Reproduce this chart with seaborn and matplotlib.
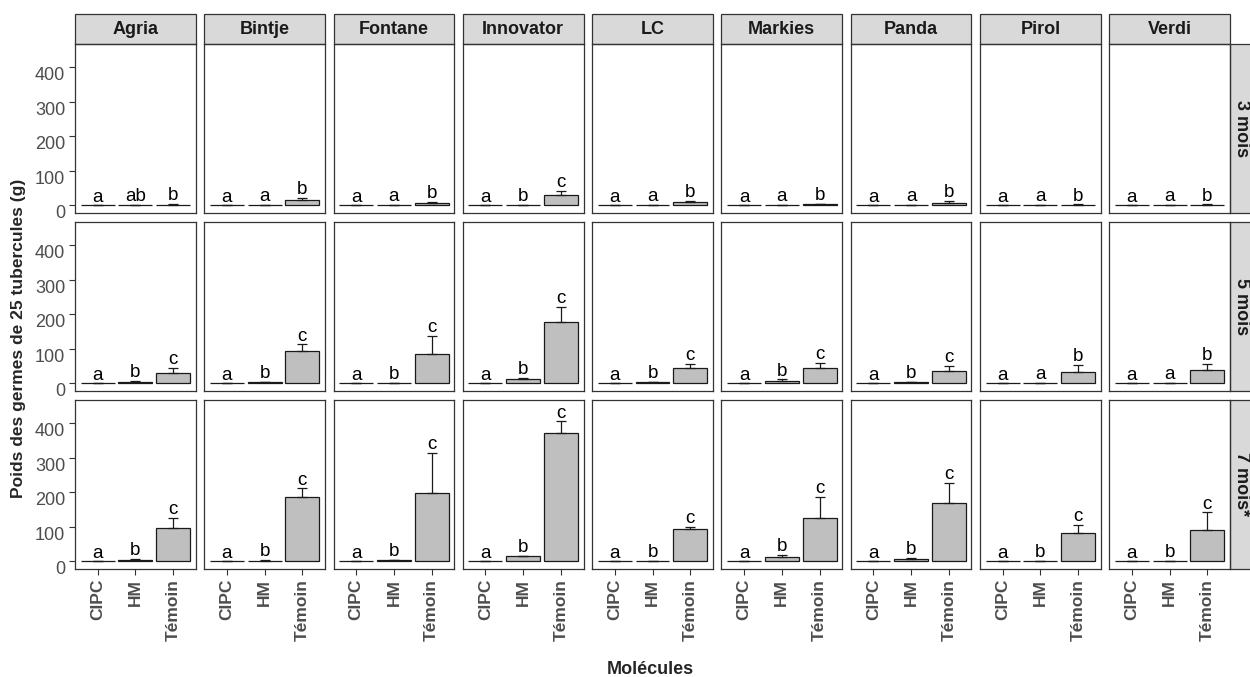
import numpy as np
import pandas as pd
import seaborn as sns
import matplotlib.pyplot as plt
from matplotlib.patches import Rectangle

sns.set_style("white")
plt.rcParams['font.family'] = ['Liberation Sans', 'DejaVu Sans']

# --- données ---
varieties = ['Agria', 'Bintje', 'Fontane', 'Innovator', 'LC', 'Markies', 'Panda', 'Pirol', 'Verdi']
molecules = ['CIPC', 'HM', 'Témoin']
periods = ['3 mois', '5 mois', '7 mois*']

# moyennes (CIPC, HM, Témoin) par variété
mean_3 = [[0, 0.5, 2], [0, 0.5, 16.5], [0, 0.5, 8], [0, 1, 30], [0, 0.5, 11],
          [0, 0.5, 3], [0, 0.5, 7], [0, 0.3, 2], [0, 0.3, 2]]
sd_3 = [[0, 0.3, 2], [0, 0.3, 6.5], [0, 0.3, 1.5], [0, 0.5, 13], [0, 0.3, 3],
        [0, 0.3, 2], [0, 0.3, 6], [0, 0.2, 1], [0, 0.2, 1]]
letters_3 = [['a', 'ab', 'b'], ['a', 'a', 'b'], ['a', 'a', 'b'], ['a', 'b', 'c'], ['a', 'a', 'b'],
             ['a', 'a', 'b'], ['a', 'a', 'b'], ['a', 'a', 'b'], ['a', 'a', 'b']]

mean_5 = [[0, 3, 30], [0, 3, 93], [0, 1, 86], [0, 13, 178], [0, 3, 46],
          [0, 8, 46], [0, 3, 37], [0, 0.3, 34], [0, 0.3, 39]]
sd_5 = [[0, 5, 16], [0, 1, 20], [0, 0.5, 52], [0, 3, 44], [0, 0.5, 11],
        [0, 4, 14], [0, 2, 13], [0, 0.2, 19], [0, 0.2, 17]]
letters_5 = [['a', 'b', 'c'], ['a', 'b', 'c'], ['a', 'b', 'c'], ['a', 'b', 'c'], ['a', 'b', 'c'],
             ['a', 'b', 'c'], ['a', 'b', 'c'], ['a', 'a', 'b'], ['a', 'a', 'b']]

mean_7 = [[0, 5, 97], [0, 2, 186], [0, 3, 198], [0, 14.5, 373], [0, 1.5, 94],
          [0, 14, 127], [0, 8, 169], [0, 2, 83], [0, 2, 90]]
sd_7 = [[0, 3, 29], [0, 2, 26], [0, 1, 116], [0, 1, 33], [0, 1, 6],
        [0, 6, 61], [0, 3, 59], [0, 0.5, 22], [0, 0.5, 52]]
letters_7 = [['a', 'b', 'c'], ['a', 'b', 'c'], ['a', 'b', 'c'], ['a', 'b', 'c'], ['a', 'b', 'c'],
             ['a', 'b', 'c'], ['a', 'b', 'c'], ['a', 'b', 'c'], ['a', 'b', 'c']]

rows = []
for p, m, s, l in zip(periods, [mean_3, mean_5, mean_7], [sd_3, sd_5, sd_7],
                      [letters_3, letters_5, letters_7]):
    for i, v in enumerate(varieties):
        for j, mol in enumerate(molecules):
            rows.append({'periode': p, 'variete': v, 'molecule': mol,
                         'moyenne': m[i][j], 'sd': s[i][j], 'lettre': l[i][j]})
df = pd.DataFrame(rows)

# --- figure ---
grey_txt = '#4D4D4D'
border = '#333333'
strip_fill = '#D9D9D9'

fig, axes = plt.subplots(3, 9, figsize=(12.5, 6.77), dpi=100, sharey=True)
fig.subplots_adjust(left=0.06, right=0.984, top=0.935, bottom=0.1595,
                    wspace=0.07, hspace=0.053)

for r, p in enumerate(periods):
    for c, v in enumerate(varieties):
        ax = axes[r, c]
        sub = df[(df['periode'] == p) & (df['variete'] == v)].set_index('molecule').loc[molecules].reset_index()
        sns.barplot(data=sub, x='molecule', y='moyenne', order=molecules, color='#BFBFBF',
                    saturation=1, edgecolor='#1a1a1a', linewidth=0.9, width=0.9,
                    errorbar=None, ax=ax)
        xs = np.arange(len(molecules))
        ax.errorbar(xs, sub['moyenne'], yerr=[np.zeros(len(xs)), sub['sd']], fmt='none',
                    ecolor='#1a1a1a', elinewidth=0.9, capsize=3.6, capthick=0.9)
        for x, (_, row) in zip(xs, sub.iterrows()):
            ax.text(x, row['moyenne'] + row['sd'] + 11, row['lettre'], ha='center',
                    va='baseline', fontsize=13.5, color='black')

        ax.set_xlim(-0.6, 2.6)
        ax.set_ylim(-22, 468)
        ax.set_yticks([0, 100, 200, 300, 400])
        ax.set_xlabel('')
        ax.set_ylabel('')
        for sp in ax.spines.values():
            sp.set_visible(True)
            sp.set_color(border)
            sp.set_linewidth(0.9)
        ax.tick_params(axis='both', length=4, width=0.8, color=border,
                       labelsize=13, labelcolor=grey_txt, pad=3)
        ax.tick_params(axis='x', bottom=(r == 2), labelbottom=(r == 2))
        ax.tick_params(axis='y', left=(c == 0), labelleft=(c == 0))
        if c == 0:
            plt.setp(ax.get_yticklabels(), va='top')
        if r == 2:
            ax.set_xticks(xs)
            ax.set_xticklabels(molecules, rotation=90, fontweight='bold', fontsize=12.5)

        # bandeaux des facettes
        if r == 0:
            ax.add_patch(Rectangle((0, 1), 1, 30 / 169, transform=ax.transAxes,
                                   facecolor=strip_fill, edgecolor=border, lw=0.9, clip_on=False))
            ax.text(0.5, 1 + 15 / 169, v, transform=ax.transAxes, ha='center', va='center',
                    fontsize=13, fontweight='bold', color='#1a1a1a')
        if c == len(varieties) - 1:
            ax.add_patch(Rectangle((1, 0), 23 / 121, 1, transform=ax.transAxes,
                                   facecolor=strip_fill, edgecolor=border, lw=0.9, clip_on=False))
            ax.text(1 + 11.5 / 121, 0.5, p, transform=ax.transAxes, ha='center', va='center',
                    rotation=-90, fontsize=13, fontweight='bold', color='#1a1a1a')

fig.text(0.0145, 0.5, 'Poids des germes de 25 tubercules (g)', rotation=90, ha='center',
         va='center', fontsize=12.5, fontweight='bold')
fig.text(0.52, 0.011, 'Molécules', ha='center', va='center', fontsize=13, fontweight='bold')

plt.savefig('out.png', dpi=100)
